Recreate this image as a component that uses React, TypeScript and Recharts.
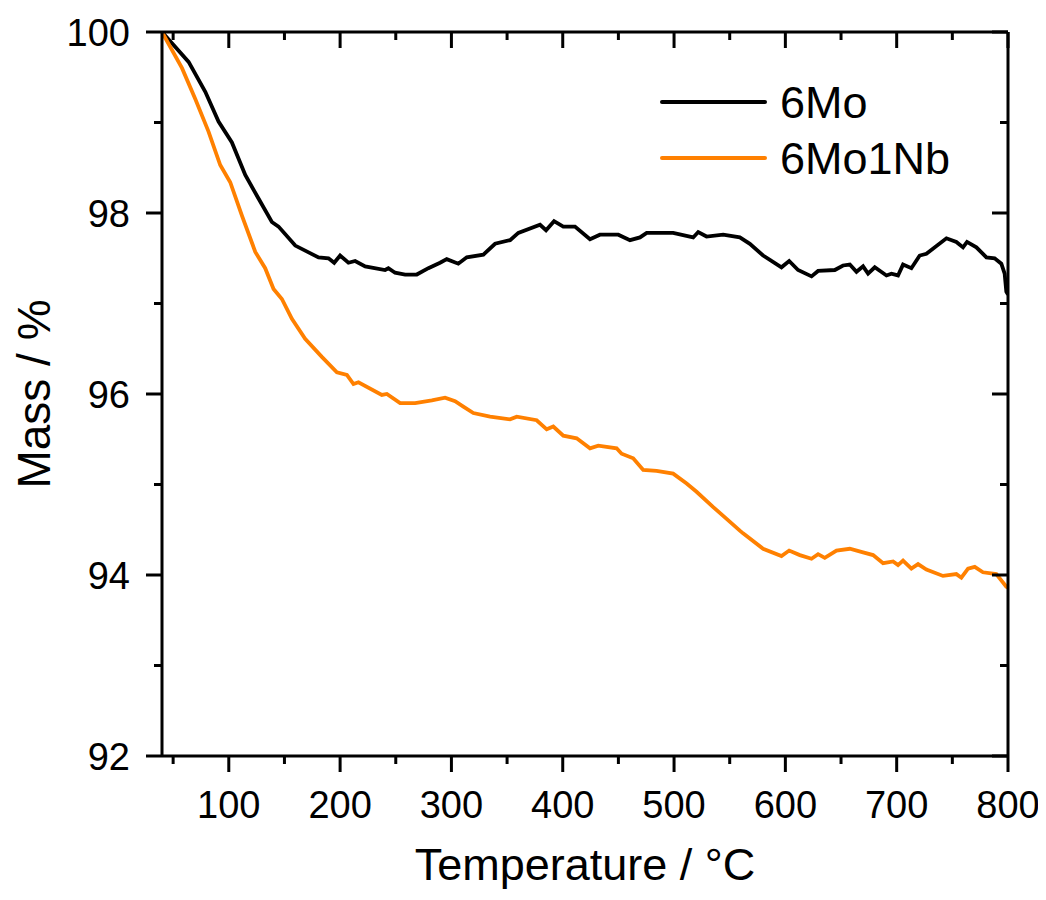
import React from 'react'
import { LineChart, Line, XAxis, YAxis, Legend, Label } from 'recharts'

// 6Mo sample (black)
const moTemp = [
  40, 63.9, 78.9, 90.8, 102.8, 114.8, 126.7, 138.7, 144.7, 159.7, 180.6, 189.6, 194.7, 200, 207.5, 213.5,
  222.5, 240.4, 243.4, 249.4, 258.4, 268.9, 279.3, 289.8, 295.8, 306.2, 313.8, 328.7, 339.2, 352.7, 360.1,
  379.6, 385, 392.2, 400.5, 411, 424.5, 433.4, 449.9, 460.4, 469.4, 475.4, 499.2, 517.2, 521.7, 529.2,
  544.1, 559.1, 568.1, 580, 596.5, 603.4, 611.4, 623.5, 629.4, 644.4, 651.8, 657.9, 663.9, 669.8, 674.3,
  680.3, 690.8, 695.3, 701.2, 705.7, 713.2, 720.7, 726.7, 744.7, 753.6, 759.6, 763.2, 771.6, 780.6, 788,
  794, 797, 798.5, 800,
]
const moMass = [
  100, 99.67, 99.34, 99.01, 98.78, 98.42, 98.16, 97.9, 97.85, 97.64, 97.51, 97.5, 97.45, 97.53, 97.45, 97.47,
  97.41, 97.37, 97.39, 97.34, 97.32, 97.32, 97.39, 97.45, 97.49, 97.44, 97.51, 97.54, 97.66, 97.7, 97.78,
  97.87, 97.81, 97.91, 97.85, 97.85, 97.71, 97.76, 97.76, 97.7, 97.73, 97.78, 97.78, 97.73, 97.79, 97.74,
  97.76, 97.73, 97.66, 97.53, 97.4, 97.47, 97.37, 97.3, 97.36, 97.37, 97.42, 97.43, 97.35, 97.41, 97.33,
  97.4, 97.31, 97.33, 97.31, 97.43, 97.39, 97.53, 97.55, 97.72, 97.68, 97.62, 97.68, 97.62, 97.51, 97.5,
  97.44, 97.33, 97.13, 97.1,
]

// 6Mo1Nb sample (orange)
const nbTemp = [
  40, 58, 69.9, 81.8, 92.3, 101.3, 111.8, 123.8, 132.7, 140.2, 147.7, 156.7, 168.6, 183.6, 197.1, 206.1,
  212, 216.5, 237.5, 242, 253.9, 267.4, 282.4, 294.3, 303.3, 310.7, 319.7, 334.7, 352.7, 358.7, 376.6,
  385.6, 391.5, 400.5, 412.5, 424.5, 431.9, 448.4, 452.9, 463.3, 472.3, 484.3, 499.2, 511.3, 520.2, 535.2,
  547.2, 559.1, 562, 580, 596.5, 603.4, 613, 623.5, 629.4, 635.4, 645.9, 657.9, 669.8, 678.8, 687.8,
  696.8, 701.2, 705.7, 713.2, 719.2, 726.7, 741.6, 753.6, 758.1, 764.1, 770.1, 777.5, 789.5, 798.5, 800,
]
const nbMass = [
  100, 99.6, 99.26, 98.9, 98.53, 98.34, 97.97, 97.57, 97.39, 97.16, 97.05, 96.83, 96.61, 96.41, 96.24, 96.21,
  96.11, 96.13, 95.99, 96.0, 95.9, 95.9, 95.93, 95.96, 95.92, 95.86, 95.79, 95.75, 95.72, 95.75, 95.71,
  95.61, 95.64, 95.54, 95.51, 95.4, 95.43, 95.4, 95.34, 95.29, 95.16, 95.15, 95.12, 95.01, 94.92, 94.75,
  94.62, 94.49, 94.46, 94.29, 94.21, 94.27, 94.22, 94.18, 94.23, 94.19, 94.27, 94.29, 94.25, 94.22, 94.13,
  94.15, 94.11, 94.16, 94.07, 94.12, 94.06, 93.99, 94.01, 93.97, 94.07, 94.09, 94.03, 94.01, 93.87, 93.86,
]

const xTicks = [50, 100, 150, 200, 250, 300, 350, 400, 450, 500, 550, 600, 650, 700, 750, 800]
const yTicks = [92, 93, 94, 95, 96, 97, 98, 99, 100]

const moData = moTemp.map((t, i) => ({ temp: t, mass: moMass[i] }))
const nbData = nbTemp.map((t, i) => ({ temp: t, mass: nbMass[i] }))

const FONT = '"Liberation Sans", Arial, sans-serif'
const MAJOR = 16
const MINOR = 8
const isMajorX = (v: number) => v % 100 === 0
const isMajorY = (v: number) => v % 2 === 0

const BottomTick = ({ x, y, payload }: any) => {
  const major = isMajorX(payload.value)
  return (
    <g>
      <line x1={x} x2={x} y1={y} y2={y + (major ? MAJOR : MINOR)} stroke="#000" strokeWidth={3} />
      {major && (
        <text x={x} y={y + 62} textAnchor="middle" fontSize={38} fontFamily={FONT} fill="#000">
          {payload.value}
        </text>
      )}
    </g>
  )
}

const TopTick = ({ x, y, payload }: any) => {
  const major = isMajorX(payload.value)
  return <line x1={x} x2={x} y1={y} y2={y + (major ? MAJOR : MINOR)} stroke="#000" strokeWidth={3} />
}

const LeftTick = ({ x, y, payload }: any) => {
  const major = isMajorY(payload.value)
  return (
    <g>
      <line x1={x - (major ? MAJOR : MINOR)} x2={x} y1={y} y2={y} stroke="#000" strokeWidth={3} />
      {major && (
        <text x={x - 32} y={y + 13.7} textAnchor="end" fontSize={38} fontFamily={FONT} fill="#000">
          {payload.value}
        </text>
      )}
    </g>
  )
}

const RightTick = ({ x, y, payload }: any) => {
  const major = isMajorY(payload.value)
  return <line x1={x - (major ? MAJOR : MINOR)} x2={x} y1={y} y2={y} stroke="#000" strokeWidth={3} />
}

const renderLegend = ({ payload }: any) => (
  <svg width={340} height={112}>
    {(payload || []).map((entry: any, i: number) => (
      <g key={entry.value}>
        <line x1={2} x2={105} y1={28 + i * 56} y2={28 + i * 56} stroke={entry.color} strokeWidth={4} strokeLinecap="round" />
        <text x={120} y={44 + i * 56} fontSize={45} fontFamily={FONT} fill="#000">
          {entry.value}
        </text>
      </g>
    ))}
  </svg>
)

const App: React.FC = () => {
  return (
    <LineChart width={1038} height={884} margin={{ top: 23, right: 37, left: 0, bottom: 0 }}>
      <XAxis
        xAxisId="b"
        type="number"
        dataKey="temp"
        domain={[40, 800]}
        allowDataOverflow
        ticks={xTicks}
        interval={0}
        tickSize={0}
        tickMargin={0}
        tickLine={false}
        tick={<BottomTick />}
        height={136}
        axisLine={{ stroke: '#000', strokeWidth: 3 }}
      >
        <Label
          content={({ viewBox }: any) => (
            <text
              x={viewBox.x + viewBox.width / 2}
              y={viewBox.y + 124}
              textAnchor="middle"
              fontSize={45}
              fontFamily={FONT}
              fill="#000"
            >
              Temperature / °C
            </text>
          )}
        />
      </XAxis>
      <XAxis
        xAxisId="t"
        orientation="top"
        type="number"
        dataKey="temp"
        domain={[40, 800]}
        allowDataOverflow
        ticks={xTicks}
        interval={0}
        tickSize={0}
        tickMargin={0}
        tickLine={false}
        tick={<TopTick />}
        height={1}
        axisLine={{ stroke: '#000', strokeWidth: 3 }}
      />
      <YAxis
        yAxisId="l"
        type="number"
        domain={[92, 100]}
        allowDataOverflow
        ticks={yTicks}
        interval={0}
        tickSize={0}
        tickMargin={0}
        tickLine={false}
        tick={<LeftTick />}
        width={154}
        axisLine={{ stroke: '#000', strokeWidth: 3 }}
      >
        <Label
          content={({ viewBox }: any) => {
            const cx = 42
            const cy = viewBox.y + viewBox.height / 2
            return (
              <text
                x={cx}
                y={cy}
                transform={`rotate(-90 ${cx} ${cy})`}
                textAnchor="middle"
                fontSize={46}
                fontFamily={FONT}
                fill="#000"
              >
                Mass / %
              </text>
            )
          }}
        />
      </YAxis>
      <YAxis
        yAxisId="r"
        orientation="right"
        type="number"
        domain={[92, 100]}
        allowDataOverflow
        ticks={yTicks}
        interval={0}
        tickSize={0}
        tickMargin={0}
        tickLine={false}
        tick={<RightTick />}
        width={1}
        axisLine={{ stroke: '#000', strokeWidth: 3 }}
      />
      <Legend
        layout="vertical"
        align="center"
        verticalAlign="middle"
        content={renderLegend}
        wrapperStyle={{ left: 652, top: 66, width: 340, height: 112 }}
      />
      <Line
        xAxisId="b"
        yAxisId="l"
        data={moData}
        dataKey="mass"
        name="6Mo"
        type="linear"
        dot={false}
        stroke="#000000"
        strokeWidth={3.8}
        isAnimationActive={false}
      />
      <Line
        xAxisId="b"
        yAxisId="l"
        data={nbData}
        dataKey="mass"
        name="6Mo1Nb"
        type="linear"
        dot={false}
        stroke="#ff8000"
        strokeWidth={3.8}
        isAnimationActive={false}
      />
    </LineChart>
  )
}

export default App
